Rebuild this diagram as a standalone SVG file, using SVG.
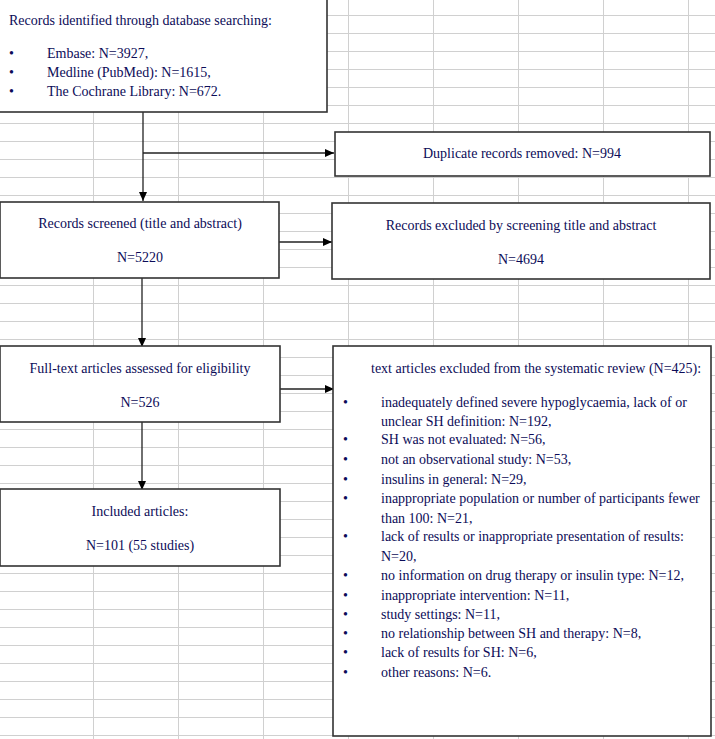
<svg xmlns="http://www.w3.org/2000/svg" width="715" height="739" viewBox="0 0 715 739">
<defs>
<marker id="arr" markerUnits="userSpaceOnUse" markerWidth="10" markerHeight="10" viewBox="0 0 10 10" refX="9" refY="5" orient="auto">
<path d="M0,1 L9,5 L0,9 z" fill="#000"/>
</marker>
<pattern id="hgrid" patternUnits="userSpaceOnUse" x="0" y="15" width="85" height="18">
<path d="M0,0.5 H85" fill="none" stroke="#d0d0d0" stroke-width="1"/>
</pattern>
<pattern id="vgrid" patternUnits="userSpaceOnUse" x="93" y="0" width="85" height="18">
<path d="M0.5,0 V18" fill="none" stroke="#d0d0d0" stroke-width="1"/>
</pattern>
</defs>
<style>
.box{fill:#fff;stroke:#333;stroke-width:1.6}
.t{font-family:"Liberation Serif","Times New Roman",serif;font-size:14px;fill:#0c0c58}
.c{text-anchor:middle}
.ln{fill:none;stroke:#222;stroke-width:1.3}
</style>
<rect x="0" y="0" width="715" height="739" fill="#fff"/>
<rect x="0" y="0" width="715" height="739" fill="url(#hgrid)"/>
<rect x="93" y="0" width="622" height="739" fill="url(#vgrid)"/>
<g id="connectors">
<path class="ln" d="M143,112 V201" marker-end="url(#arr)"/>
<path class="ln" d="M143,153 H334" marker-end="url(#arr)"/>
<path class="ln" d="M279,242 H332" marker-end="url(#arr)"/>
<path class="ln" d="M142,278 V347" marker-end="url(#arr)"/>
<path class="ln" d="M280,389 H334" marker-end="url(#arr)"/>
<path class="ln" d="M142,422 V490" marker-end="url(#arr)"/>
</g>
<g id="identified">
<rect class="box" x="-2" y="-2" width="329" height="114"/>
<text class="t" x="9" y="25">Records identified through database searching:</text>
<text class="t" x="9" y="58">•</text>
<text class="t" x="47" y="58">Embase: N=3927,</text>
<text class="t" x="9" y="77">•</text>
<text class="t" x="47" y="77">Medline (PubMed): N=1615,</text>
<text class="t" x="9" y="96">•</text>
<text class="t" x="47" y="96">The Cochrane Library: N=672.</text>
</g>
<g id="duplicates">
<rect class="box" x="335" y="132" width="375" height="44"/>
<text class="t c" x="522" y="158">Duplicate records removed: N=994</text>
</g>
<g id="screened">
<rect class="box" x="0" y="202" width="279" height="76"/>
<text class="t c" x="140" y="228">Records screened (title and abstract)</text>
<text class="t c" x="140" y="262">N=5220</text>
</g>
<g id="excluded-screening">
<rect class="box" x="332" y="203" width="378" height="76"/>
<text class="t c" x="521" y="230">Records excluded by screening title and abstract</text>
<text class="t c" x="521" y="264">N=4694</text>
</g>
<g id="fulltext">
<rect class="box" x="0" y="346" width="280" height="76"/>
<text class="t c" x="140" y="373">Full-text articles assessed for eligibility</text>
<text class="t c" x="140" y="407">N=526</text>
</g>
<g id="included">
<rect class="box" x="0" y="489" width="280" height="77"/>
<text class="t c" x="140" y="516">Included articles:</text>
<text class="t c" x="140" y="550">N=101 (55 studies)</text>
</g>
<g id="excluded-review">
<rect class="box" x="333" y="346" width="378" height="390"/>
<text class="t" x="371" y="373">text articles excluded from the systematic review (N=425):</text>
<text class="t" x="343" y="407">•</text><text class="t" x="381" y="407">inadequately defined severe hypoglycaemia, lack of or</text>
<text class="t" x="381" y="426">unclear SH definition: N=192,</text>
<text class="t" x="343" y="444">•</text><text class="t" x="381" y="444">SH was not evaluated: N=56,</text>
<text class="t" x="343" y="464">•</text><text class="t" x="381" y="464">not an observational study: N=53,</text>
<text class="t" x="343" y="484">•</text><text class="t" x="381" y="484">insulins in general: N=29,</text>
<text class="t" x="343" y="503">•</text><text class="t" x="381" y="503">inappropriate population or number of participants fewer</text>
<text class="t" x="381" y="523">than 100: N=21,</text>
<text class="t" x="343" y="541">•</text><text class="t" x="381" y="541">lack of results or inappropriate presentation of results:</text>
<text class="t" x="381" y="561">N=20,</text>
<text class="t" x="343" y="580">•</text><text class="t" x="381" y="580">no information on drug therapy or insulin type: N=12,</text>
<text class="t" x="343" y="600">•</text><text class="t" x="381" y="600">inappropriate intervention: N=11,</text>
<text class="t" x="343" y="619">•</text><text class="t" x="381" y="619">study settings: N=11,</text>
<text class="t" x="343" y="638">•</text><text class="t" x="381" y="638">no relationship between SH and therapy: N=8,</text>
<text class="t" x="343" y="657">•</text><text class="t" x="381" y="657">lack of results for SH: N=6,</text>
<text class="t" x="343" y="677">•</text><text class="t" x="381" y="677">other reasons: N=6.</text>
</g>
</svg>
